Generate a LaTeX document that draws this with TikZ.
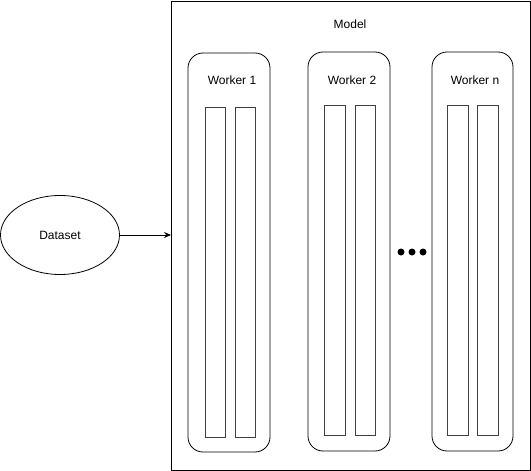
\documentclass[tikz,border=0pt]{standalone}
\usepackage{fontspec}
\setmainfont{Liberation Sans}
\usetikzlibrary{arrows.meta,shapes.geometric}
\begin{document}
\begin{tikzpicture}[x=1pt,y=-1pt,
  lbl/.style={font=\fontsize{12}{14}\selectfont, inner sep=0pt},
  workerbox/.style={draw=black, line width=0.8pt, rounded corners=15pt},
  colbox/.style={draw=black!75, line width=0.8pt},
  dot/.style={circle, fill=black, inner sep=0pt, minimum size=7pt}]
\useasboundingbox (0,0) rectangle (531,471);
% Model container
\node[draw=black, line width=0.8pt, minimum width=359pt, minimum height=469pt, inner sep=0pt, anchor=north west] (model) at (171,1) {};
\node[lbl] (modellbl) at (350,24) {Model};
% Workers
\draw[workerbox] (188,53) rectangle (270,452);
\node[lbl] (w1) at (232,80) {Worker 1};
\draw[colbox] (205,107) rectangle (225,437);
\draw[colbox] (235,107) rectangle (255,437);
\draw[workerbox] (308,52) rectangle (390,451);
\node[lbl] (w2) at (352,80) {Worker 2};
\draw[colbox] (324,105) rectangle (345,435);
\draw[colbox] (355,105) rectangle (375,435);
\draw[workerbox] (432,52) rectangle (513,451);
\node[lbl] (wn) at (475,80) {Worker n};
\draw[colbox] (447,105) rectangle (468,435);
\draw[colbox] (477,105) rectangle (498,435);
% dots
\node[dot] (d1) at (401,252) {};
\node[dot] (d2) at (412,252) {};
\node[dot] (d3) at (423,252) {};
% Dataset
\node[draw=black, line width=0.8pt, ellipse, minimum width=119pt, minimum height=79pt, inner sep=0pt, lbl] (data) at (60,235) {Dataset};
\coordinate (arrend) at (171,235);
\draw[line width=0.8pt, -{Stealth[length=7pt,width=6pt]}] (data.east) -- (arrend);
\end{tikzpicture}
\end{document}
